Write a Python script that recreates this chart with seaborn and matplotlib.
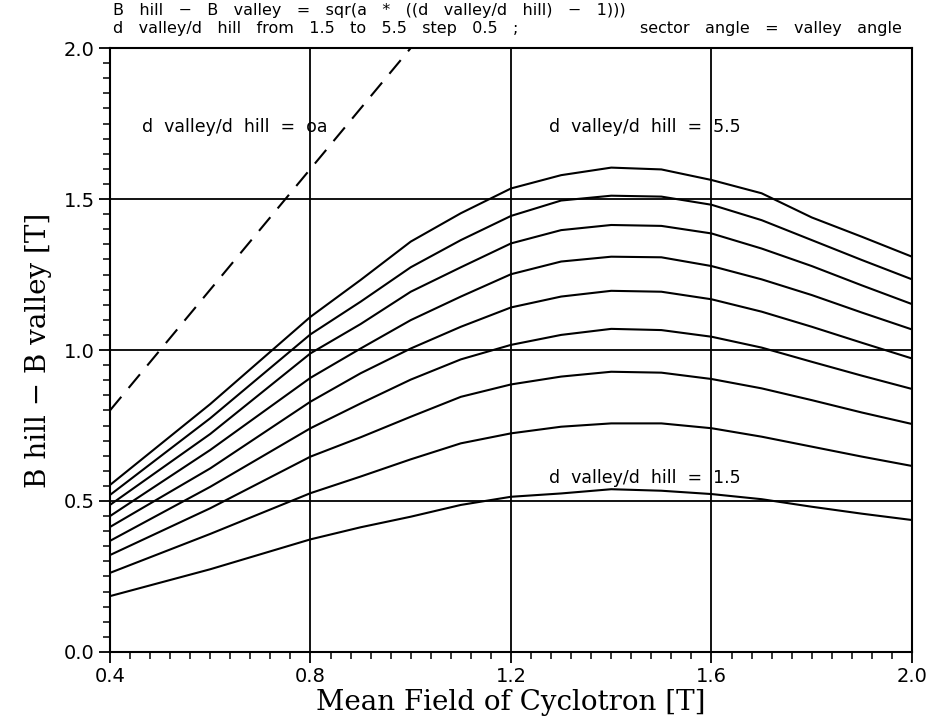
import numpy as np
import pandas as pd
import matplotlib.pyplot as plt
import seaborn as sns

sns.set_theme(style="ticks")
plt.rcParams['font.family'] = ['DejaVu Sans']
plt.rcParams['text.color'] = 'black'
plt.rcParams['axes.labelcolor'] = 'black'
plt.rcParams['xtick.color'] = 'black'
plt.rcParams['ytick.color'] = 'black'

# Mean field of cyclotron [T]
mean_field = [0.4, 0.6, 0.8, 0.9, 1.0, 1.1, 1.2, 1.3, 1.4, 1.5, 1.6, 1.7, 1.8, 1.9, 2.0]

# B hill - B valley [T], one curve per d valley/d hill ratio
ratios = [1.5, 2.0, 2.5, 3.0, 3.5, 4.0, 4.5, 5.0, 5.5]
dB_15 = [0.185, 0.274, 0.373, 0.413, 0.448, 0.487, 0.514, 0.525, 0.539, 0.534, 0.523, 0.506, 0.481, 0.458, 0.437]
dB_20 = [0.262, 0.391, 0.526, 0.581, 0.638, 0.691, 0.724, 0.746, 0.757, 0.757, 0.741, 0.713, 0.680, 0.647, 0.616]
dB_25 = [0.321, 0.476, 0.647, 0.711, 0.779, 0.845, 0.886, 0.912, 0.928, 0.925, 0.904, 0.873, 0.834, 0.793, 0.755]
dB_30 = [0.368, 0.547, 0.741, 0.823, 0.902, 0.969, 1.017, 1.050, 1.070, 1.066, 1.044, 1.008, 0.961, 0.915, 0.871]
dB_35 = [0.414, 0.608, 0.829, 0.923, 1.005, 1.077, 1.141, 1.177, 1.196, 1.193, 1.168, 1.127, 1.077, 1.024, 0.972]
dB_40 = [0.450, 0.669, 0.908, 1.005, 1.099, 1.177, 1.251, 1.293, 1.309, 1.307, 1.278, 1.234, 1.182, 1.124, 1.068]
dB_45 = [0.487, 0.722, 0.989, 1.086, 1.193, 1.274, 1.353, 1.397, 1.414, 1.411, 1.386, 1.336, 1.278, 1.214, 1.152]
dB_50 = [0.520, 0.774, 1.052, 1.160, 1.274, 1.364, 1.444, 1.495, 1.511, 1.508, 1.481, 1.430, 1.364, 1.298, 1.234]
dB_55 = [0.553, 0.821, 1.110, 1.232, 1.359, 1.453, 1.535, 1.579, 1.604, 1.598, 1.563, 1.519, 1.439, 1.375, 1.309]
curves = [dB_15, dB_20, dB_25, dB_30, dB_35, dB_40, dB_45, dB_50, dB_55]

# limiting case d valley/d hill = infinity
inf_x = [0.4, 1.0]
inf_y = [0.8, 2.0]

rows = []
for r, vals in zip(ratios, curves):
    for x, y in zip(mean_field, vals):
        rows.append({'ratio': r, 'B': x, 'dB': y})
df = pd.DataFrame(rows)
df_inf = pd.DataFrame({'B': inf_x, 'dB': inf_y})

fig = plt.figure(figsize=(9.29, 7.19), dpi=100)
ax = fig.add_axes([0.1184, 0.0932, 0.8633, 0.84])

# grid lines at the major ticks
for gx in [0.8, 1.2, 1.6]:
    ax.axvline(gx, color='black', lw=1.3, zorder=1)
for gy in [0.5, 1.0, 1.5]:
    ax.axhline(gy, color='black', lw=1.3, zorder=1)

sns.lineplot(data=df, x='B', y='dB', units='ratio', estimator=None,
             color='black', lw=1.5, ax=ax, legend=False, zorder=3)
sns.lineplot(data=df_inf, x='B', y='dB', color='black', lw=1.5, ax=ax,
             dashes=False, zorder=3)
ax.lines[-1].set_dashes((8.5, 5.5))

ax.set_xlim(0.4, 2.0)
ax.set_ylim(0.0, 2.0)
ax.set_xticks([0.4, 0.8, 1.2, 1.6, 2.0])
ax.set_xticklabels(['0.4', '0.8', '1.2', '1.6', '2.0'])
ax.set_yticks([0.0, 0.5, 1.0, 1.5, 2.0])
ax.set_yticklabels(['0.0', '0.5', '1.0', '1.5', '2.0'])
ax.set_xticks(np.arange(0.4, 2.0001, 0.04), minor=True)
ax.set_yticks(np.arange(0.0, 2.0001, 0.05), minor=True)
ax.tick_params(which='major', length=8, width=1.3, labelsize=14, pad=3)
ax.tick_params(which='minor', length=5, width=1.1)
for s in ax.spines.values():
    s.set_color('black')
    s.set_linewidth(1.5)

ax.set_xlabel('Mean Field of Cyclotron [T]', family='DejaVu Serif', fontsize=20, labelpad=2)
ax.set_ylabel('B hill \u2212 B valley [T]', family='DejaVu Serif', fontsize=20, labelpad=8)

lab = dict(fontsize=12.5, va='center', ha='left')
ax.text(0.464, 1.738, 'd  valley/d  hill  =  oa', **lab)
ax.text(1.276, 1.738, 'd  valley/d  hill  =  5.5', **lab)
ax.text(1.276, 0.576, 'd  valley/d  hill  =  1.5', **lab)

fig.text(113 / 929, 1 - 10 / 719,
         'B   hill   \u2212   B   valley   =   sqr(a   *   ((d   valley/d   hill)   \u2212   1)))',
         fontsize=11.5, va='center', ha='left')
fig.text(113 / 929, 1 - 28 / 719,
         'd   valley/d   hill   from   1.5   to   5.5   step   0.5   ;',
         fontsize=11.5, va='center', ha='left')
fig.text(902 / 929, 1 - 28 / 719, 'sector   angle   =   valley   angle',
         fontsize=11.5, va='center', ha='right')

fig.savefig('out.png', dpi=100, facecolor='white')
